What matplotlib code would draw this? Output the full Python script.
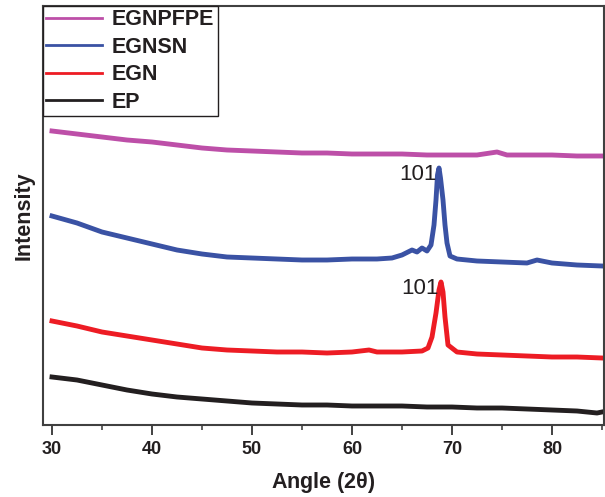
import matplotlib
matplotlib.use("Agg")
import matplotlib.pyplot as plt
from matplotlib.lines import Line2D

plt.rcParams["font.family"] = ["Liberation Sans", "DejaVu Sans"]

# Data (intensity in arbitrary units, offset stacked)
labels = ["EGNPFPE", "EGNSN", "EGN", "EP"]
colors = ["#BD4FA8", "#3A52A4", "#ED1C24", "#231F20"]

angle_egnpfpe = [30, 32.5, 35, 37.5, 40, 42.5, 45, 47.5, 50, 52.5, 55, 57.5, 60,
                 62.5, 65, 67.5, 70, 72.5, 74.5, 75.5, 77.5, 80, 82.5, 85]
int_egnpfpe = [294, 291, 288, 285, 283, 280, 277, 275, 274, 273, 272, 272, 271,
               271, 271, 270, 270, 270, 273, 270, 270, 270, 269, 269]

angle_egnsn = [30, 32.5, 35, 37.5, 40, 42.5, 45, 47.5, 50, 52.5, 55, 57.5, 60,
               62.5, 64, 65, 66, 66.5, 67, 67.5, 67.9, 68.2, 68.4, 68.55, 68.7,
               68.85, 69.1, 69.3, 69.5, 69.8, 70.5, 72.5, 75, 77.5, 78.5, 80, 82.5, 85]
int_egnsn = [209, 202, 193, 187, 181, 175, 171, 168, 167, 166, 165, 165, 166,
             166, 167, 170, 175, 173, 177, 174, 180, 200, 225, 250, 257,
             247, 225, 200, 182, 169, 166, 164, 163, 162, 165, 162, 160, 159]

angle_egn = [30, 32.5, 35, 37.5, 40, 42.5, 45, 47.5, 50, 52.5, 55, 57.5, 60,
             61.7, 62.5, 65, 67, 67.6, 68.0, 68.4, 68.7, 68.9, 69.1, 69.3, 69.6,
             70.5, 72.5, 75, 77.5, 80, 82.5, 85]
int_egn = [104, 99, 93, 89, 85, 81, 77, 75, 74, 73, 73, 72, 73,
           75, 73, 73, 74, 77, 88, 112, 135, 143, 133, 108, 80,
           73, 71, 70, 69, 68, 68, 67]

angle_ep = [30, 32.5, 35, 37.5, 40, 42.5, 45, 47.5, 50, 52.5, 55, 57.5, 60,
            62.5, 65, 67.5, 70, 72.5, 75, 77.5, 80, 82.5, 84.5, 85]
int_ep = [48, 45, 40, 35, 31, 28, 26, 24, 22, 21, 20, 20, 19,
          19, 19, 18, 18, 17, 17, 16, 15, 14, 12, 13]

peak_labels = ["101", "101"]
peak_angles = [68.7, 68.9]
peak_heights = [257, 143]

series = [
    (angle_egnpfpe, int_egnpfpe),
    (angle_egnsn, int_egnsn),
    (angle_egn, int_egn),
    (angle_ep, int_ep),
]

fig = plt.figure(figsize=(6.05, 4.97), dpi=100)
ax = fig.add_axes([43 / 605, (497 - 425) / 497, (604 - 43) / 605, (425 - 6) / 497])

for (x, y), c in zip(series, colors):
    ax.plot(x, y, color=c, lw=3.5, solid_joinstyle="round")

# peak annotations
for lab, px, py in zip(peak_labels, peak_angles, peak_heights):
    ax.text(px - 0.25, py - 7, lab, ha="right", va="center", fontsize=16,
            color="#231F20")

ax.set_xlim(29.1, 85.2)
ax.set_ylim(0, 419)
ax.set_xticks([30, 40, 50, 60, 70, 80])
ax.set_xticks([35, 45, 55, 65, 75, 85], minor=True)
ax.set_yticks([])
ax.tick_params(axis="x", which="major", direction="out", length=7.5, width=1.3,
               pad=4, labelsize=13, colors="#333333")
ax.tick_params(axis="x", which="minor", direction="out", length=3.5, width=1.1,
               colors="#333333")
for lab in ax.get_xticklabels():
    lab.set_fontweight("bold")
    lab.set_color("#231F20")
for sp in ax.spines.values():
    sp.set_linewidth(1.5)
    sp.set_color("#404040")

ax.set_xlabel(r"Angle ($\mathregular{2\theta}$)", fontsize=15.5, fontweight="bold",
              color="#231F20", labelpad=9)
ax.set_ylabel("Intensity", fontsize=15.5, fontweight="bold", color="#231F20",
              labelpad=6)

handles = [Line2D([], [], color=c, lw=2) for c in colors]
leg = ax.legend(handles, labels, loc="upper left", bbox_to_anchor=(0, 1),
                borderaxespad=0, fancybox=False, framealpha=1, edgecolor="#231F20",
                handlelength=2.6, handletextpad=0.45, labelspacing=0.3,
                borderpad=0.16, prop={"weight": "bold", "size": 15.5})
leg.get_frame().set_linewidth(1.0)
for t in leg.get_texts():
    t.set_color("#231F20")

fig.savefig("out.png", dpi=100)
